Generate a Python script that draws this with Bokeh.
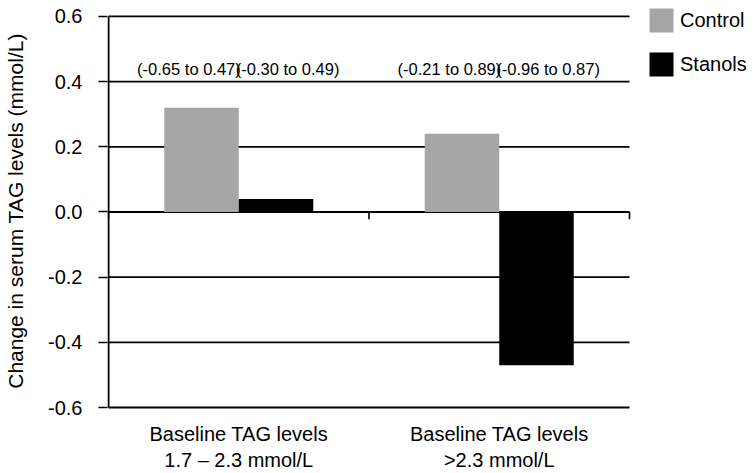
from bokeh.plotting import figure
from bokeh.models import Range1d, FixedTicker, Legend, LegendItem, ColumnDataSource
from bokeh.core.properties import value
from bokeh.embed import file_html
from bokeh.resources import INLINE

# ---- data ----
categories = ["Baseline TAG levels\n1.7 \u2013 2.3 mmol/L", "Baseline TAG levels\n>2.3 mmol/L"]
series_names = ["Control", "Stanols"]
control = [0.32, 0.24]
stanols = [0.04, -0.47]
control_ci = ["(-0.65 to 0.47)", "(-0.21 to 0.89)"]
stanols_ci = ["(-0.30 to 0.49)", "(-0.96 to 0.87)"]
y_ticks = [-0.6, -0.4, -0.2, 0.0, 0.2, 0.4, 0.6]
y_tick_labels = ["-0.6", "-0.4", "-0.2", "0.0", "0.2", "0.4", "0.6"]
y_title = "Change in serum TAG levels (mmol/L)"

# ---- layout helpers ----
FONT = "Liberation Sans"
n = len(categories)
centers = [i + 0.5 for i in range(n)]
bw = 0.286
ci_y = 0.44
W, H = 753, 473
plot_left, plot_right = 108, 629         # pixel extent of the category area
plot_top, plot_bottom = 16, 408          # pixel extent of the value axis
px_x = (plot_right - plot_left) / n
px_y = (plot_bottom - plot_top) / (y_ticks[-1] - y_ticks[0])
frame_top, frame_bottom = 5, 417
x_start = -1 / px_x
x_end = (W - plot_left) / px_x
y_start = y_ticks[0] - (frame_bottom - plot_bottom) / px_y
y_end = y_ticks[-1] + (plot_top - frame_top) / px_y
bottom_border = H - frame_bottom

p = figure(width=W, height=H, output_backend="svg", toolbar_location=None,
           x_range=Range1d(x_start, x_end), y_range=Range1d(y_start, y_end),
           min_border_left=plot_left - 1, min_border_right=0, min_border_top=frame_top,
           min_border_bottom=bottom_border)
p.outline_line_color = None
p.background_fill_color = "white"
p.border_fill_color = "white"
p.xgrid.visible = False
p.ygrid.visible = False

# horizontal grid lines, limited to the category area
p.segment(x0=[0] * len(y_ticks), x1=[n] * len(y_ticks), y0=y_ticks, y1=y_ticks,
          line_color="#000000", line_width=1.8)
# value axis line
p.segment(x0=[0], x1=[0], y0=[y_ticks[0]], y1=[y_ticks[-1]], line_color="#000000", line_width=2)
# category boundary ticks on the zero line
bounds = list(range(n + 1))
p.segment(x0=bounds, x1=bounds, y0=[0] * (n + 1), y1=[-0.022] * (n + 1),
          line_color="#000000", line_width=1.6)

src_c = ColumnDataSource(dict(x=[c - bw / 2 for c in centers], top=control, ci=control_ci, cx=centers))
src_s = ColumnDataSource(dict(x=[c + bw / 2 for c in centers], top=stanols, ci=stanols_ci, cx=centers))

r_c = p.vbar(x="x", top="top", bottom=0, width=bw, source=src_c, fill_color="#a6a6a6", line_color=None)
r_s = p.vbar(x="x", top="top", bottom=0, width=bw, source=src_s, fill_color="#000000", line_color=None)

# CI annotations
p.text(x="cx", y=ci_y, text="ci", source=src_c, text_align="right", text_baseline="middle",
       x_offset=2, text_font=value(FONT), text_font_size="16.5px", text_color="#000000")
p.text(x="cx", y=ci_y, text="ci", source=src_s, text_align="left", text_baseline="middle",
       x_offset=-3, text_font=value(FONT), text_font_size="16.5px", text_color="#000000")

# y axis
ya = p.yaxis[0]
ya.ticker = FixedTicker(ticks=y_ticks)
ya.major_label_overrides = {t: l for t, l in zip(y_ticks, y_tick_labels)}
ya.axis_line_color = None
ya.major_tick_out = 9
ya.major_tick_in = 0
ya.major_tick_line_width = 1.6
ya.major_tick_line_color = "#000000"
ya.minor_tick_line_color = None
ya.major_label_standoff = 16
ya.major_label_text_font = FONT
ya.major_label_text_font_size = "20px"
ya.major_label_text_color = "#000000"
ya.axis_label = y_title
ya.axis_label_text_font = FONT
ya.axis_label_text_font_size = "21px"
ya.axis_label_text_font_style = "normal"
ya.axis_label_text_color = "#000000"
ya.axis_label_standoff = 18

# x axis (category labels)
xa = p.xaxis[0]
xa.ticker = FixedTicker(ticks=centers)
xa.major_label_overrides = {c: l for c, l in zip(centers, categories)}
xa.axis_line_color = None
xa.major_tick_line_color = None
xa.minor_tick_line_color = None
xa.major_label_standoff = 0
xa.major_label_text_font = FONT
xa.major_label_text_font_size = "20px"
xa.major_label_text_color = "#000000"

# legend (inside the frame, to the right of the category area)
leg_left, leg_top, glyph, gap = 646, 6, 30, 14
leg_height = 2 * glyph + gap
legend = Legend(items=[LegendItem(label=series_names[0], renderers=[r_c]),
                       LegendItem(label=series_names[1], renderers=[r_s])],
                location=(leg_left - (plot_left - 1), frame_bottom - (leg_top + leg_height)),
                orientation="vertical",
                glyph_width=glyph, glyph_height=glyph, label_height=glyph, spacing=gap,
                label_standoff=4, padding=0, margin=0,
                label_text_font=FONT, label_text_font_size="20px", label_text_color="#000000",
                border_line_color=None, background_fill_alpha=0)
p.add_layout(legend, "center")

open("out.html", "w").write(file_html(p, INLINE))
